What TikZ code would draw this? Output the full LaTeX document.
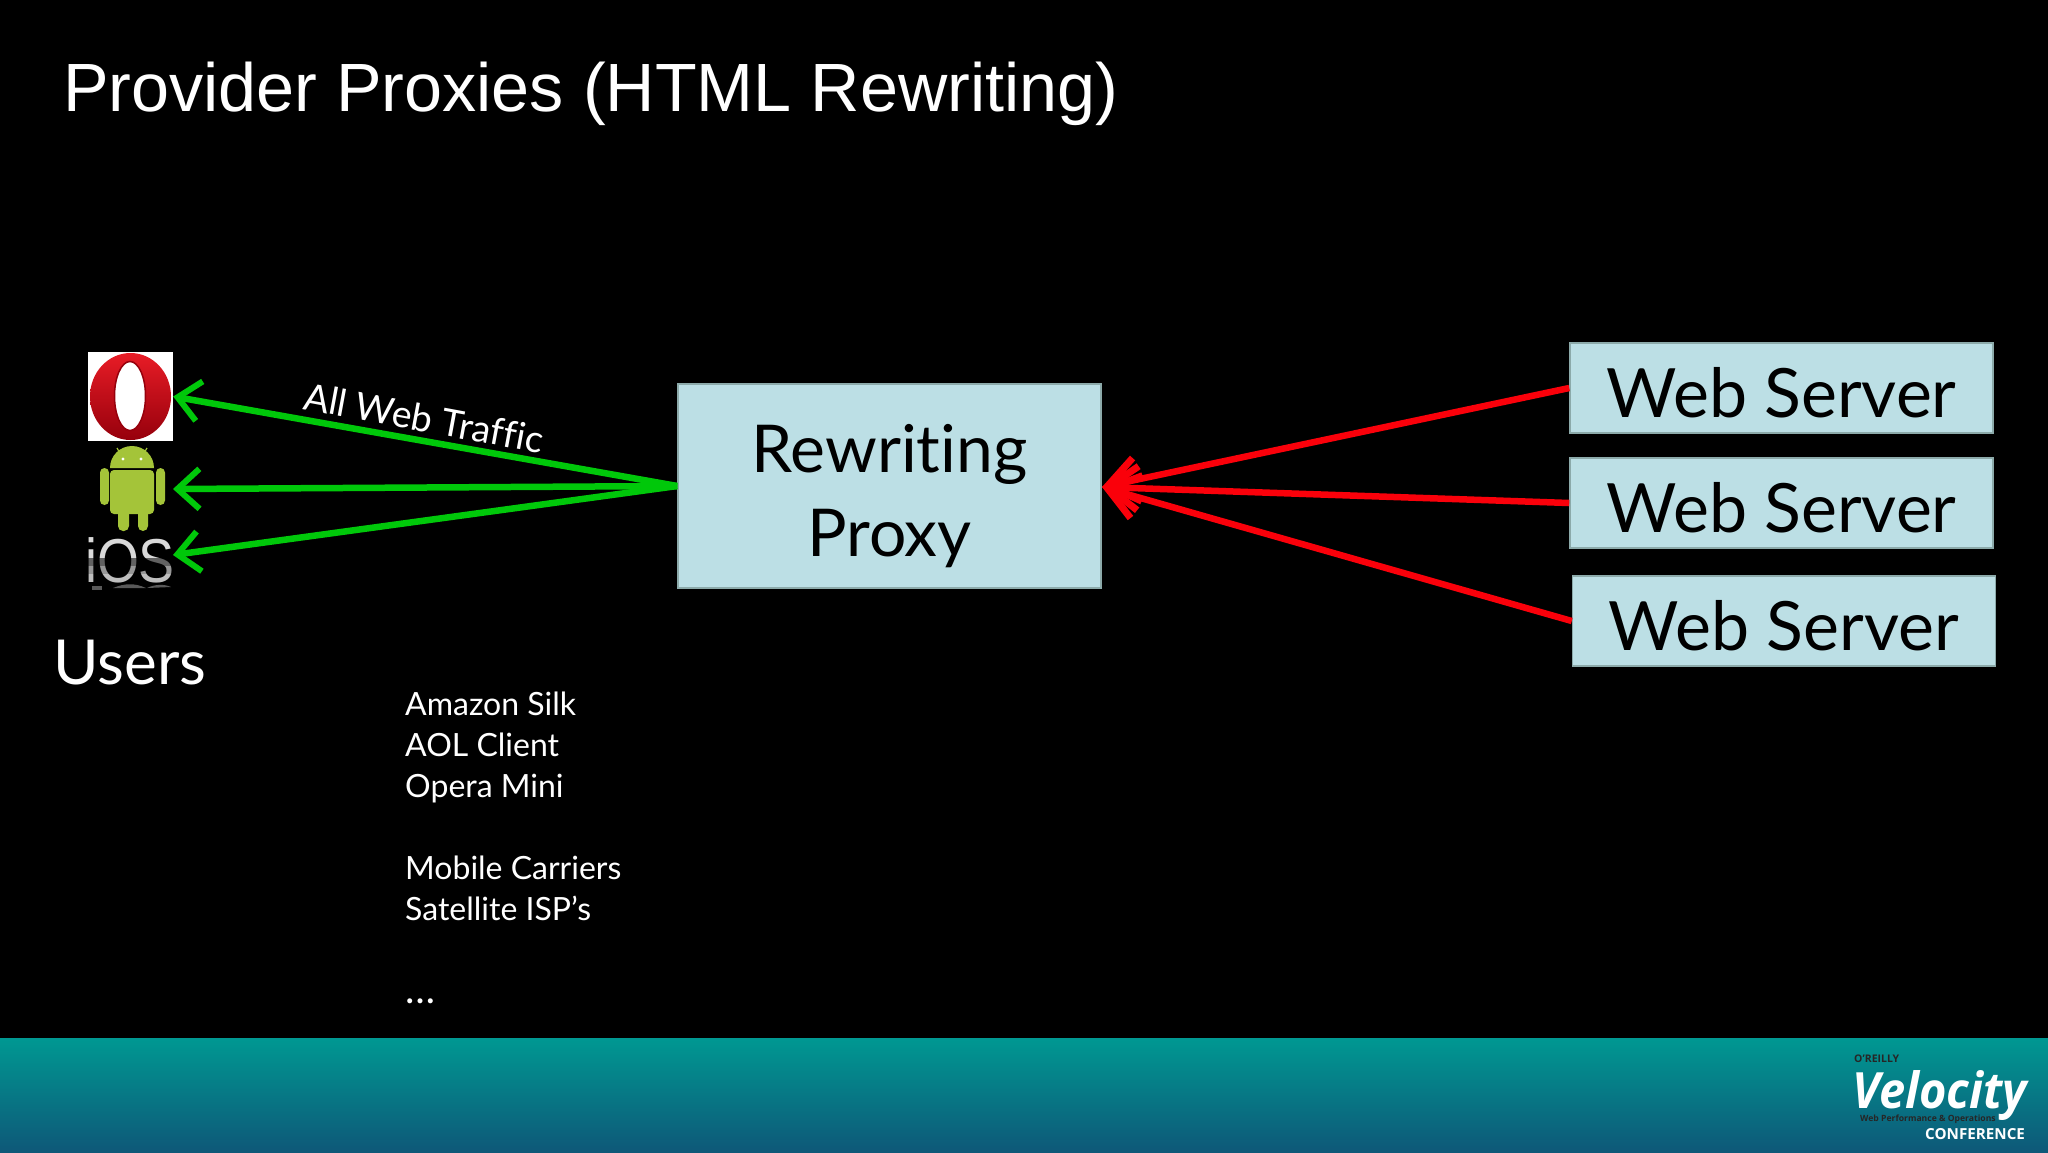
\documentclass[tikz,border=0pt]{standalone}
\usepackage{fontspec}
\setmainfont{Liberation Sans}
\newfontfamily\gill[Ligatures=NoCommon]{Lato}
\newfontfamily\opensans{Open Sans}
\usetikzlibrary{arrows.meta,shapes.geometric}
\definecolor{boxfill}{RGB}{188,223,229}
\definecolor{boxline}{RGB}{140,170,170}
\definecolor{gline}{RGB}{0,200,10}
\definecolor{rline}{RGB}{250,0,10}
\definecolor{droid}{RGB}{164,196,57}
\definecolor{tealtop}{RGB}{0,152,146}
\definecolor{tealbot}{RGB}{14,88,120}
\definecolor{opred}{RGB}{232,28,38}
\definecolor{opdark}{RGB}{150,0,12}
\newcommand{\srvtext}{\raisebox{-29pt}[0pt][0pt]{Web Server}}
\tikzset{
 srv/.style={draw=boxline,line width=1.5pt,fill=boxfill,minimum width=423pt,minimum height=90pt,inner sep=0pt,text=black,font=\gill\fontsize{68}{68}\selectfont},
 greenarrow/.style={draw=gline,line width=6.5pt,shorten >=-16pt,-{Straight Barb[length=22pt,width=40pt,line width=6pt,sep=16pt]}},
 redarrow/.style={draw=rline,line width=6.5pt,-{Straight Barb[length=30pt,width=44pt,line width=7pt,sep=0pt]}},
 lab/.style={text=white,inner sep=0pt,anchor=base west,font=\gill\fontsize{32}{32}\selectfont},
}
\begin{document}
\begin{tikzpicture}[x=1pt,y=-1pt]
\useasboundingbox (0,0) rectangle (2048,1152);
\fill[black] (0,0) rectangle (2048,1152);
\shade[top color=tealtop,bottom color=tealbot,draw=none] (0,1038) rectangle (2048,1152);

\node[anchor=base west,inner sep=0pt,text=white,font=\fontsize{68.3}{68.3}\selectfont] (title) at (63,111) {Provider Proxies (HTML Rewriting)};

\node[srv,minimum width=423pt,minimum height=204pt] (proxy) at (889.5,486) {};
\node[align=center,inner sep=0pt,text=black,font=\gill\fontsize{66}{84}\selectfont] (proxytext) at (889.5,496) {Rewriting\\Proxy};
\node[srv] (ws1) at (1781.5,388) {\srvtext};
\node[srv] (ws2) at (1781.5,503) {\srvtext};
\node[srv] (ws3) at (1784,621) {\srvtext};

% Opera
\node[fill=white,minimum width=85pt,minimum height=89pt,inner sep=0pt] (opera) at (130.5,396.5) {};
\shade[top color=opred,middle color=opred,bottom color=opdark] (130.5,396.5) ellipse [x radius=40.5,y radius=43.5];
\draw[draw=opdark,line width=1.5pt,fill=white] (130,396) ellipse [x radius=15.5,y radius=34.5];

% Android
\coordinate (android) at (173,489);
\fill[droid] (110,468) arc[start angle=180,end angle=360,radius=22] -- cycle;
\fill[droid,rounded corners=4pt] (110,470) rectangle (154,514);
\fill[droid,rounded corners=4.5pt] (100,468) rectangle (109,505);
\fill[droid,rounded corners=4.5pt] (156,468) rectangle (165,505);
\fill[droid,rounded corners=5pt] (118,505) rectangle (129,531);
\fill[droid,rounded corners=5pt] (138,505) rectangle (148,531);
\draw[droid,line width=1.2pt] (120,453) -- (117,448);
\draw[droid,line width=1.2pt] (144,453) -- (147,448);
\fill[white] (123,459) circle (1.7);
\fill[white] (141,459) circle (1.7);

% iOS
\node[inner sep=0pt,text=white!85!black,font=\fontsize{62}{62}\selectfont,anchor=base,xscale=.87] (ios) at (130,582) {iOS};
\fill[black,opacity=.55] (85,558) rectangle (176,566);
\fill[black,opacity=.3] (85,566) rectangle (176,574);
\fill[black,opacity=.12] (85,574) rectangle (176,584);
\fill[white!35!black] (92,586) rectangle (102,590);
\fill[white!35!black] (113,588) .. controls (125,583) and (135,583) .. (146,588) -- cycle;
\fill[white!35!black] (147,588) .. controls (155,584) and (165,584) .. (171,587) -- cycle;
\coordinate (iostip) at (173,555);

\node[anchor=base,inner sep=0pt,text=white,font=\gill\fontsize{62}{62}\selectfont] (users) at (130,684) {Users};

\draw[greenarrow] (proxy.west) -- (opera.east);
\draw[greenarrow] (proxy.west) -- (android);
\draw[greenarrow] (proxy.west) -- (iostip);
\coordinate (ptip) at (1102,487);
\draw[redarrow] (ws1.west) -- (ptip);
\draw[redarrow] (ws2.west) -- (ptip);
\draw[redarrow] (ws3.west) -- (ptip);

\node[text=white,inner sep=0pt,rotate=-10.5,font=\gill\fontsize{37.5}{37.5}\selectfont] (traffic) at (424,418) {All Web Traffic};

\node[lab] (l1) at (405,715) {Amazon Silk};
\node[lab] (l2) at (405,756) {AOL Client};
\node[lab] (l3) at (405,797) {Opera Mini};
\node[lab] (l4) at (405,879) {Mobile Carriers};
\node[lab] (l5) at (405,920) {Satellite ISP’s};
\node[lab,font=\gill\fontsize{40}{40}\selectfont] (l6) at (405,1003) {…};

% Velocity logo
\node[anchor=base west,inner sep=0pt,text=black!85,font=\opensans\bfseries\fontsize{10.5}{10.5}\selectfont] (ore) at (1854,1062) {O’REILLY};
\node[anchor=base west,inner sep=0pt,text=black!85,font=\opensans\bfseries\fontsize{8.6}{8.6}\selectfont] (perf) at (1860,1121) {Web Performance \& Operations};
\node[anchor=base west,inner sep=0pt,text=white,font=\opensans\bfseries\itshape\fontsize{50}{50}\selectfont,xscale=.94] (vel) at (1852,1108) {Velocity};
\node[anchor=base west,inner sep=0pt,text=white,font=\opensans\bfseries\fontsize{15.2}{15.2}\selectfont] (conf) at (1925,1139) {CONFERENCE};
\end{tikzpicture}
\end{document}
